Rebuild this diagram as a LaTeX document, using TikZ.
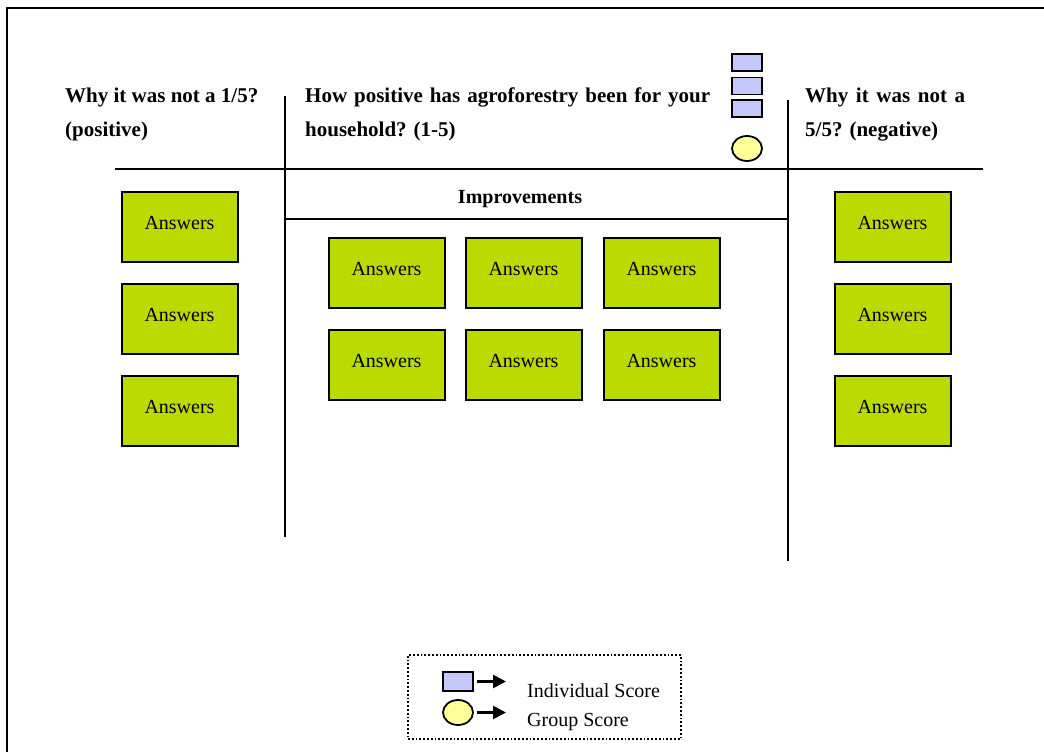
\documentclass[tikz,border=0pt]{standalone}
\usepackage{fontspec}
\setmainfont{Liberation Serif}
\usetikzlibrary{positioning, arrows.meta, shapes.geometric}
\definecolor{ansGreen}{RGB}{186, 218, 0}
\definecolor{scoreBlue}{RGB}{196, 200, 250}
\definecolor{scoreYellow}{RGB}{255, 255, 153}
\hyphenpenalty=10000

\begin{document}
\begin{tikzpicture}[
    x=1pt, y=-1pt,
    answer/.style={rectangle, draw=black, fill=ansGreen, line width=2pt,
                   minimum width=116pt, minimum height=70pt, inner sep=0pt,
                   text height=14pt, text depth=9pt,
                   font=\fontsize{20}{24}\selectfont},
    heading/.style={inner sep=0pt, anchor=north west,
                    font=\fontsize{21}{34}\selectfont\bfseries},
    tline/.style={line width=2.8pt},
    indiv/.style={rectangle, draw=black, fill=scoreBlue, line width=1.8pt,
                  minimum width=30pt, minimum height=17pt, inner sep=0pt},
    group/.style={ellipse, draw=black, fill=scoreYellow, line width=1.8pt,
                  minimum width=30pt, minimum height=25pt, inner sep=0pt},
    legtext/.style={inner sep=0pt, anchor=base west, font=\fontsize{20}{24}\selectfont},
    legarr/.style={-{Triangle[length=13pt, width=13pt]}, line width=2.6pt},
  ]
    \useasboundingbox (0,0) rectangle (1044,752);

    % Outer frame (runs off the page)
    \draw[line width=2.3pt] (7,760) -- (7,8) -- (1050,8);

    % T-chart lines
    \draw[tline] (115,169) -- (983,169);
    \draw[tline] (285,96) -- (285,537);
    \draw[tline] (788,100) -- (788,561);
    \draw[tline] (285,219) -- (788,219);

    % Headings
    \node[heading, align=left] (HPOS) at (65,87.5)
      {Why it was not a 1/5?\\(positive)};
    \node[heading, text width=405pt, align=justify] (HQ) at (305,88)
      {How positive has agroforestry been for your household? (1-5)};
    \node[heading, text width=160pt, align=justify] (HNEG) at (805,87.5)
      {Why it was not a 5/5? (negative)};
    \node[inner sep=0pt, anchor=base, font=\fontsize{20}{24}\selectfont\bfseries]
      (IMPR) at (520,203) {Improvements};

    % Score markers
    \foreach \y [count=\i] in {62.5, 86, 108.5} {
      \node[indiv] (S\i) at (747,\y) {};
    }
    \node[group] (G) at (747,148.5) {};

    % Left and right answer columns
    \foreach \y [count=\i] in {226.5, 318.5, 410.5} {
      \node[answer] (L\i) at (179.5,\y) {Answers};
      \node[answer] (R\i) at (892.5,\y) {Answers};
    }

    % Improvement answers
    \foreach \x [count=\i] in {386.5, 523.5, 661.5} {
      \node[answer] (M1\i) at (\x,272.5) {Answers};
      \node[answer] (M2\i) at (\x,364.5) {Answers};
    }

    % Legend
    \node[draw=black, dotted, line width=1.8pt, minimum width=273pt,
          minimum height=84pt, inner sep=0pt] (LEG) at (544.5,697) {};
    \node[indiv, minimum height=19pt] (LI) at (458,681.5) {};
    \node[group] (LG) at (458,712.5) {};
    \coordinate (LIend) at (506,681.5);
    \coordinate (LGend) at (506,712.5);
    \draw[legarr] (LI.east) ++(3,0) coordinate (LIstart) -- (LIend);
    \draw[legarr] (LG.east) ++(3,0) coordinate (LGstart) -- (LGend);
    \node[legtext] (LIT) at (527,697.5) {Individual Score};
    \node[legtext] (LGT) at (527,726) {Group Score};
  \end{tikzpicture}
\end{document}
